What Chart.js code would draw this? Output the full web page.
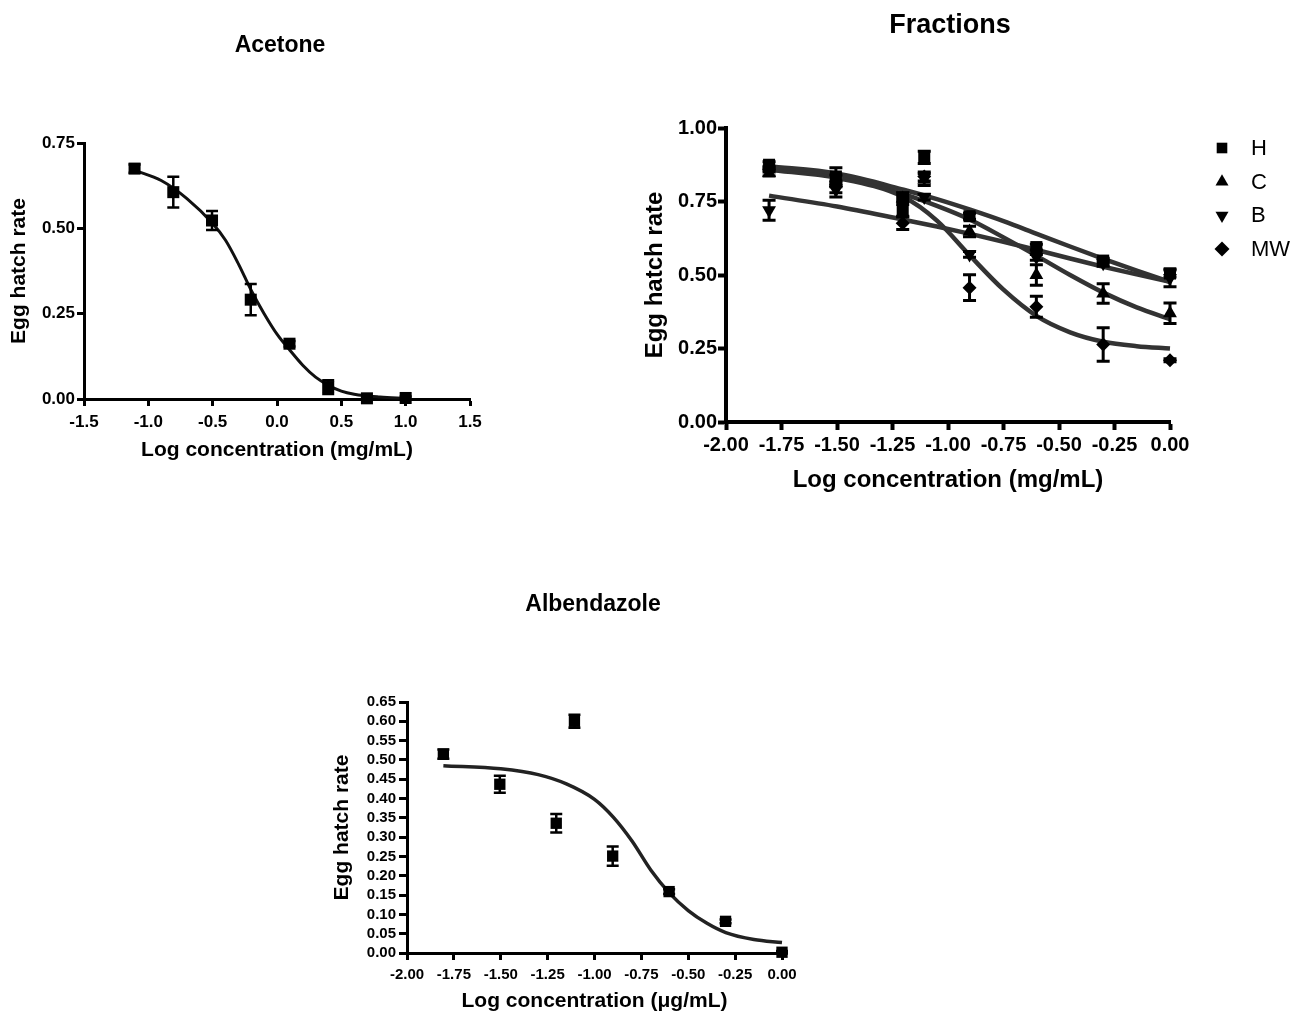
<!DOCTYPE html>
<html>
<head>
<meta charset="utf-8">
<script src="https://cdn.jsdelivr.net/npm/chart.js"></script>
<style>
  body { margin: 0; background: #fff; width: 1293px; height: 1017px; overflow: hidden; position: relative; }
  canvas { position: absolute; }
</style>
</head>
<body>
<canvas id="acetone" width="540" height="480" style="left:0px;top:0px"></canvas>
<canvas id="fractions" width="693" height="520" style="left:600px;top:0px"></canvas>
<canvas id="albendazole" width="560" height="457" style="left:300px;top:560px"></canvas>
<script>
// --- Acetone ---
const acetoneX = [-1.107, -0.806, -0.505, -0.204, 0.097, 0.398, 0.699, 1.0];
const acetoneY = [0.675, 0.606, 0.523, 0.291, 0.162, 0.035, 0.002, 0.003];
const acetoneErr = [0.012, 0.045, 0.028, 0.046, 0.008, 0.02, 0.004, 0.004];
const acetoneFitX = [-1.107, -0.9, -0.7, -0.5, -0.4, -0.3, -0.2, -0.1, 0, 0.1, 0.2, 0.3, 0.4, 0.5, 0.6, 0.8, 1.0];
const acetoneFitY = [0.67, 0.64, 0.587, 0.514, 0.465, 0.396, 0.318, 0.25, 0.19, 0.143, 0.099, 0.064, 0.04, 0.023, 0.014, 0.006, 0.002];
const acetoneXTicks = ['-1.5', '-1.0', '-0.5', '0.0', '0.5', '1.0', '1.5'];
const acetoneYTicks = ['0.00', '0.25', '0.50', '0.75'];

// --- Fractions ---
const fracX = [-1.806, -1.505, -1.204, -1.107, -0.903, -0.602, -0.301, 0];
const fracH = [0.875, 0.835, 0.72, 0.90, 0.70, 0.595, 0.549, 0.505];
const fracHErr = [0.01, 0.03, 0.02, 0.021, 0.01, 0.01, 0.008, 0.012];
const fracC = [0.847, 0.82, 0.76, 0.824, 0.648, 0.50, 0.437, 0.37];
const fracCErr = [0.01, 0.02, 0.01, 0.02, 0.018, 0.035, 0.033, 0.035];
const fracB = [0.72, 0.79, 0.77, 0.765, 0.57, 0.56, 0.54, 0.49];
const fracBErr = [0.034, 0.025, 0.01, 0.01, 0.01, 0.01, 0.01, 0.03];
const fracMW = [0.86, 0.80, 0.676, 0.835, 0.457, 0.392, 0.264, 0.21];
const fracMWErr = [0.01, 0.02, 0.021, 0.015, 0.044, 0.036, 0.057, 0.005];
const fracFitX = [-1.806, -1.5, -1.2, -1.05, -0.9, -0.75, -0.6, -0.45, -0.3, -0.15, 0];
const fracFitH = [0.87, 0.845, 0.79, 0.758, 0.722, 0.683, 0.64, 0.597, 0.555, 0.515, 0.477];
const fracFitC = [0.862, 0.838, 0.775, 0.735, 0.688, 0.628, 0.565, 0.5, 0.44, 0.39, 0.35];
const fracFitB = [0.77, 0.733, 0.688, 0.665, 0.64, 0.613, 0.585, 0.556, 0.528, 0.502, 0.477];
const fracFitMW = [0.858, 0.83, 0.765, 0.685, 0.565, 0.45, 0.36, 0.305, 0.273, 0.258, 0.25];
const fracXTicks = ['-2.00', '-1.75', '-1.50', '-1.25', '-1.00', '-0.75', '-0.50', '-0.25', '0.00'];
const fracYTicks = ['0.00', '0.25', '0.50', '0.75', '1.00'];

// --- Albendazole ---
const albX = [-1.806, -1.505, -1.204, -1.107, -0.903, -0.602, -0.301, 0];
const albY = [0.515, 0.437, 0.336, 0.600, 0.251, 0.159, 0.082, 0.002];
const albErr = [0.012, 0.022, 0.024, 0.017, 0.025, 0.006, 0.005, 0.003];
const albFitX = [-1.806, -1.5, -1.3, -1.15, -1.0, -0.9, -0.8, -0.7, -0.6, -0.5, -0.4, -0.3, -0.15, 0];
const albFitY = [0.485, 0.477, 0.462, 0.438, 0.398, 0.352, 0.29, 0.215, 0.155, 0.11, 0.077, 0.053, 0.035, 0.027];
const albXTicks = ['-2.00', '-1.75', '-1.50', '-1.25', '-1.00', '-0.75', '-0.50', '-0.25', '0.00'];
const albYTicks = ['0.00', '0.05', '0.10', '0.15', '0.20', '0.25', '0.30', '0.35', '0.40', '0.45', '0.50', '0.55', '0.60', '0.65'];

Chart.defaults.font.family = 'Liberation Sans, Arial, Helvetica, sans-serif';
Chart.defaults.color = '#000';
Chart.defaults.animation = false;

function drawMarker(ctx, style, rotation, r, x, y) {
  ctx.beginPath();
  if (style === 'rect') {
    const s = r * Math.SQRT1_2;
    ctx.rect(x - s, y - s, 2 * s, 2 * s);
  } else if (style === 'rectRot') {
    ctx.moveTo(x - r, y); ctx.lineTo(x, y - r); ctx.lineTo(x + r, y); ctx.lineTo(x, y + r);
    ctx.closePath();
  } else {
    const d = rotation ? -1 : 1;
    const w = r * Math.sin(Math.PI / 3);
    ctx.moveTo(x, y - d * r); ctx.lineTo(x + w, y + d * r / 2); ctx.lineTo(x - w, y + d * r / 2);
    ctx.closePath();
  }
  ctx.fill();
}

// error bars, title and legend drawn on top of the library's scales
const extras = {
  id: 'extras',
  afterDatasetsDraw(chart, args, opts) {
    const ctx = chart.ctx;
    const xs = chart.scales.x, ys = chart.scales.y;
    chart.data.datasets.forEach(ds => {
      if (!ds.errors) return;
      ctx.save();
      ctx.strokeStyle = '#000';
      ctx.lineWidth = opts.errWidth;
      ds.data.forEach((p, i) => {
        const e = ds.errors[i];
        if (!e) return;
        const px = xs.getPixelForValue(p.x);
        const top = ys.getPixelForValue(p.y + e);
        const bot = ys.getPixelForValue(p.y - e);
        ctx.beginPath();
        ctx.moveTo(px, top); ctx.lineTo(px, bot);
        ctx.moveTo(px - opts.cap, top); ctx.lineTo(px + opts.cap, top);
        ctx.moveTo(px - opts.cap, bot); ctx.lineTo(px + opts.cap, bot);
        ctx.stroke();
      });
      ctx.restore();
    });
  },
  afterDraw(chart, args, opts) {
    const ctx = chart.ctx;
    ctx.save();
    ctx.fillStyle = '#000';
    ctx.textAlign = 'center';
    ctx.textBaseline = 'middle';
    ctx.font = 'bold ' + opts.title.size + 'px ' + Chart.defaults.font.family;
    ctx.fillText(opts.title.text, opts.title.x, opts.title.y);
    if (opts.legend) {
      const lg = opts.legend;
      ctx.textAlign = 'left';
      ctx.font = lg.size + 'px ' + Chart.defaults.font.family;
      let row = 0;
      chart.data.datasets.forEach(ds => {
        if (!ds.label) return;
        const y = lg.y + row * lg.step;
        drawMarker(ctx, ds.pointStyle, ds.pointRotation, lg.radius, lg.x, y);
        ctx.fillText(ds.label, lg.textX, y + 1);
        row++;
      });
    }
    ctx.restore();
  }
};

function makeAxis(cfg) {
  return {
    type: 'linear',
    min: parseFloat(cfg.ticks[0]),
    max: parseFloat(cfg.ticks[cfg.ticks.length - 1]),
    afterBuildTicks: scale => { scale.ticks = cfg.ticks.map(t => ({ value: parseFloat(t) })); },
    afterFit: scale => {
      if (scale.isHorizontal()) scale.height = cfg.size;
      else scale.width = cfg.size;
    },
    ticks: {
      font: { size: cfg.tickSize, weight: 'bold' },
      padding: cfg.tickPad,
      maxRotation: 0,
      autoSkip: false,
      callback: (v, i) => cfg.ticks[i]
    },
    grid: { drawOnChartArea: false, tickLength: cfg.tickLen, tickWidth: cfg.line, tickColor: '#000' },
    border: { color: '#000', width: cfg.line },
    title: { display: true, text: cfg.title, font: { size: cfg.titleSize, weight: 'bold' }, padding: cfg.titlePad }
  };
}

function pointSet(label, xs, ys, errs, style, rotation, radius) {
  return {
    label: label,
    data: xs.map((x, i) => ({ x: x, y: ys[i] })),
    errors: errs,
    showLine: false,
    pointStyle: style,
    pointRotation: rotation,
    pointRadius: radius,
    pointHoverRadius: radius,
    pointBorderWidth: 0,
    backgroundColor: '#000',
    borderColor: '#000',
    clip: false
  };
}

function curveSet(xs, ys, color, width) {
  return {
    data: xs.map((x, i) => ({ x: x, y: ys[i] })),
    showLine: true,
    pointRadius: 0,
    pointHoverRadius: 0,
    borderColor: color,
    borderWidth: width,
    cubicInterpolationMode: 'monotone',
    fill: false,
    clip: false
  };
}

new Chart(document.getElementById('acetone'), {
  type: 'scatter',
  data: {
    datasets: [
      pointSet(null, acetoneX, acetoneY, acetoneErr, 'rect', 0, 8.5),
      curveSet(acetoneFitX, acetoneFitY, '#111', 3)
    ]
  },
  options: {
    responsive: false,
    layout: { padding: { left: 0, right: 70, top: 143, bottom: 15 } },
    scales: {
      x: makeAxis({ ticks: acetoneXTicks, title: 'Log concentration (mg/mL)', size: 66, tickSize: 17, tickPad: 6, tickLen: 7, line: 3, titleSize: 21, titlePad: { top: 0, bottom: 2 } }),
      y: makeAxis({ ticks: acetoneYTicks, title: 'Egg hatch rate', size: 84, tickSize: 17, tickPad: 2, tickLen: 7, line: 3, titleSize: 21, titlePad: { top: 7, bottom: 0 } })
    },
    plugins: {
      legend: { display: false },
      tooltip: { enabled: false },
      extras: { errWidth: 2.5, cap: 6, title: { text: 'Acetone', x: 280, y: 46, size: 23 } }
    }
  },
  plugins: [extras]
});

new Chart(document.getElementById('fractions'), {
  type: 'scatter',
  data: {
    datasets: [
      pointSet('H', fracX, fracH, fracHErr, 'rect', 0, 8.5),
      pointSet('C', fracX, fracC, fracCErr, 'triangle', 0, 8),
      pointSet('B', fracX, fracB, fracBErr, 'triangle', 180, 8),
      pointSet('MW', fracX, fracMW, fracMWErr, 'rectRot', 0, 7),
      curveSet(fracFitX, fracFitH, '#333', 4.5),
      curveSet(fracFitX, fracFitC, '#333', 4.5),
      curveSet(fracFitX, fracFitB, '#333', 4.5),
      curveSet(fracFitX, fracFitMW, '#333', 4.5)
    ]
  },
  options: {
    responsive: false,
    layout: { padding: { left: 0, right: 123, top: 128, bottom: 18 } },
    scales: {
      x: makeAxis({ ticks: fracXTicks, title: 'Log concentration (mg/mL)', size: 80, tickSize: 20, tickPad: 3, tickLen: 8, line: 4, titleSize: 24, titlePad: { top: 0, bottom: 7 } }),
      y: makeAxis({ ticks: fracYTicks, title: 'Egg hatch rate', size: 126, tickSize: 20, tickPad: 1, tickLen: 8, line: 4, titleSize: 24, titlePad: { top: 41, bottom: 0 } })
    },
    plugins: {
      legend: { display: false },
      tooltip: { enabled: false },
      extras: {
        errWidth: 3, cap: 6.5,
        title: { text: 'Fractions', x: 350, y: 26, size: 27 },
        legend: { x: 622, textX: 651, y: 148, step: 33.7, size: 22, radius: 7.5 }
      }
    }
  },
  plugins: [extras]
});

new Chart(document.getElementById('albendazole'), {
  type: 'scatter',
  data: {
    datasets: [
      pointSet(null, albX, albY, albErr, 'rect', 0, 8),
      curveSet(albFitX, albFitY, '#222', 3.5)
    ]
  },
  options: {
    responsive: false,
    layout: { padding: { left: 0, right: 78, top: 142, bottom: 2 } },
    scales: {
      x: makeAxis({ ticks: albXTicks, title: 'Log concentration (\u03bcg/mL)', size: 62, tickSize: 15, tickPad: 6, tickLen: 7, line: 3, titleSize: 21, titlePad: { top: 0, bottom: 1 } }),
      y: makeAxis({ ticks: albYTicks, title: 'Egg hatch rate', size: 107, tickSize: 15, tickPad: 3, tickLen: 8, line: 3, titleSize: 21, titlePad: { top: 30, bottom: 0 } })
    },
    plugins: {
      legend: { display: false },
      tooltip: { enabled: false },
      extras: { errWidth: 2.5, cap: 6, title: { text: 'Albendazole', x: 293, y: 45, size: 23 } }
    }
  },
  plugins: [extras]
});
</script>
</body>
</html>
